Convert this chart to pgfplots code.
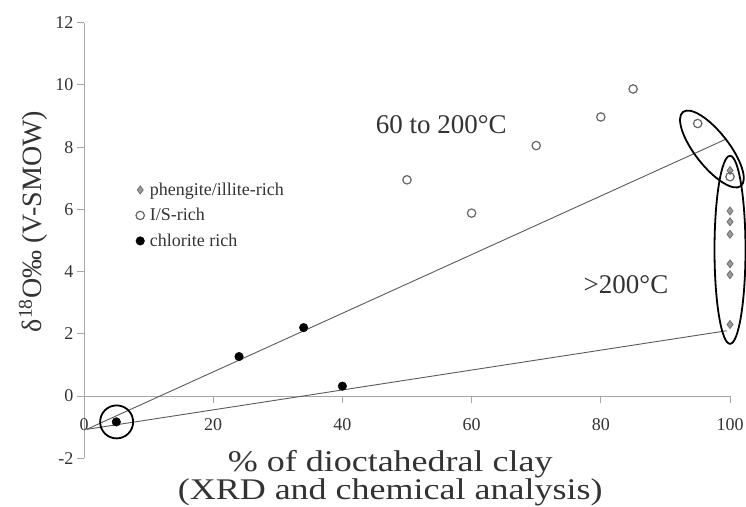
\documentclass[border=0pt]{standalone}
\usepackage{pgfplots}
\pgfplotsset{compat=1.18}
\usepackage{fontspec}
\setmainfont{Liberation Serif}
\newfontfamily\wideserif[FakeStretch=1.2]{Liberation Serif}

\definecolor{axgray}{HTML}{A6A6A6}
\definecolor{lngray}{HTML}{5A5A5A}
\definecolor{dmfill}{HTML}{9A9A9A}
\definecolor{dmedge}{HTML}{707070}
\definecolor{ocedge}{HTML}{666666}
\definecolor{txt}{HTML}{333333}

\begin{document}
\begin{tikzpicture}
\begin{axis}[
  scale only axis, width=646pt, height=435.6pt,
  xmin=0, xmax=100, ymin=-2, ymax=12,
  enlargelimits=false, clip=false,
  axis x line=middle, axis y line=left,
  axis line style={-, draw=axgray, line width=0.9pt},
  xtick={0,20,...,100}, ytick={-2,0,...,12},
  tick align=outside, major tick length=7pt,
  tick style={draw=axgray, line width=0.9pt},
  hide obscured x ticks=false, hide obscured y ticks=false,
  /pgf/number format/assume math mode=true,
  ticklabel style={font=\fontsize{18}{18}\selectfont, text=txt},
  xticklabel style={yshift=-12pt},
  legend style={draw=none, fill=none, at={(axis cs:7.48,6.92)}, anchor=north west,
    font=\fontsize{18}{20}\selectfont, inner sep=0pt, row sep=7.5pt,
    cells={anchor=west}, text=txt},
  legend image code/.code={\path[draw=none,fill=none] (0pt,-2pt) rectangle (15.4pt,2pt); \draw[mark repeat=2,mark phase=2,#1] plot coordinates {(0pt,0pt) (7.7pt,0pt) (15.4pt,0pt)};},
]
% trend lines
\addplot[lngray, line width=0.9pt, no marks, forget plot] coordinates {(0.4,-1.07) (99.3,8.25)};
\addplot[lngray, line width=0.9pt, no marks, forget plot] coordinates {(0.4,-1.07) (99.5,2.1)};

% phengite/illite-rich
\addplot[only marks, mark=diamond*, mark size=4pt, mark options={fill=dmfill, draw=dmedge, line width=0.8pt}]
  coordinates {(100,7.25) (100,5.95) (100,5.6) (100,5.2) (100,4.25) (100,3.9) (100,2.3)};
\addlegendentry{phengite/illite-rich}
% I/S-rich
\addplot[only marks, mark=o, mark size=4.2pt, mark options={draw=ocedge, line width=1.2pt, fill=white}]
  coordinates {(50,6.95) (60,5.88) (70,8.05) (80,8.97) (85,9.87) (95,8.76) (100,7.05)};
\addlegendentry{I/S-rich}
% chlorite rich
\addplot[only marks, mark=*, mark size=4.3pt, mark options={fill=black, draw=black}]
  coordinates {(5,-0.83) (24,1.27) (34,2.2) (40,0.32)};
\addlegendentry{chlorite rich}

% ellipses
\draw[black, line width=1.8pt, rotate around={-52:(axis cs:97.2,7.94)}] (axis cs:97.2,7.94) ellipse [x radius=47pt, y radius=17pt];
\draw[black, line width=1.8pt] (axis cs:100.0,4.7) ellipse [x radius=15.5pt, y radius=94pt];
\draw[black, line width=1.8pt] (axis cs:5.05,-0.83) circle [radius=16.5pt];

% annotations
\node[font=\fontsize{27}{27}\selectfont, text=txt] at (axis cs:55.3,8.71) {60 to 200°C};
\node[font=\fontsize{27}{27}\selectfont, text=txt] at (axis cs:83.9,3.57) {>200°C};

% axis titles
\node[rotate=90, font=\fontsize{28}{28}\selectfont, text=txt] at (axis cs:-7.9,5.61) {δ\textsuperscript{18}O‰ (V-SMOW)};
\node[align=center, font=\wideserif\fontsize{30}{28}\selectfont, text=txt] at (axis cs:47.4,-2.63) {\% of dioctahedral clay\\(XRD and chemical analysis)};
\end{axis}
\pgfresetboundingbox
\path ([shift={(-84pt,-47.7pt)}]current axis.south west) rectangle ++(746pt,506pt);
\end{tikzpicture}
\end{document}
